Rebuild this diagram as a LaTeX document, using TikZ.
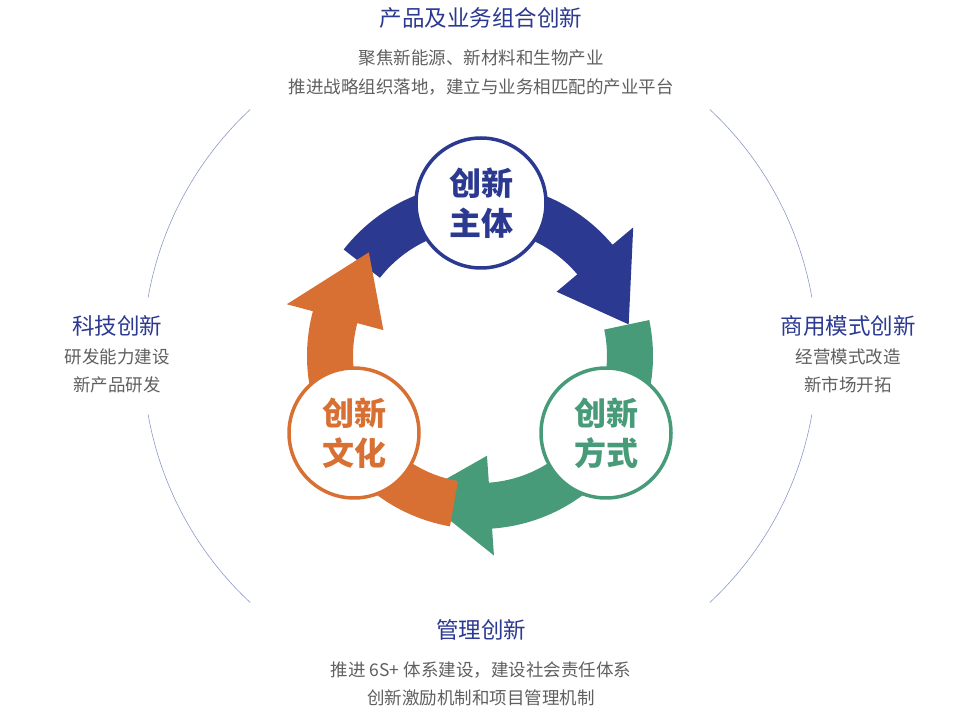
\documentclass[tikz,border=0pt]{standalone}
\usepackage{fontspec}
\setmainfont{Noto Sans CJK SC}
\usetikzlibrary{positioning}
\definecolor{cblue}{HTML}{2B3990}
\definecolor{cgreen}{HTML}{479B79}
\definecolor{corange}{HTML}{D87033}
\definecolor{cgray}{HTML}{5F5F5F}
\definecolor{cring}{HTML}{8D9AC8}
% cycle arrow: colour, start angle, end angle (clockwise)
\newcommand{\cyclearrow}[3]{%
  \pgfmathsetmacro{\hs}{#3+28}
  \fill[#1] (#2:173) arc[start angle=#2, end angle=\hs, radius=173]
    -- (\hs:200) -- (#3:152) -- (\hs:100) -- (\hs:127)
    arc[start angle=\hs, end angle=#2, radius=127] -- cycle;}
\begin{document}
\begin{tikzpicture}[x=1pt,y=1pt,
  hub/.style={circle, draw=#1, line width=3.5pt, fill=white, minimum size=130pt,
    text=#1, font=\fontsize{32}{40}\selectfont\bfseries, align=center, inner sep=0pt},
  title/.style={text=cblue, font=\fontsize{22.5}{26}\selectfont},
  desc/.style={text=cgray, font=\fontsize{17.5}{20}\selectfont}]
\useasboundingbox (0,0) rectangle (970,713);
% outer ring %
\begin{scope}[shift={(480,357)}, cring, line width=0.6pt]
\draw (133:337) arc[start angle=133, end angle=170, radius=337];
\draw (190:337) arc[start angle=190, end angle=227, radius=337];
\draw (47:337) arc[start angle=47, end angle=10, radius=337];
\draw (-10:337) arc[start angle=-10, end angle=-47, radius=337];
\end{scope}
% arrows %
\begin{scope}[shift={(480,357)}]
\cyclearrow{cblue}{142}{12}
\cyclearrow{cgreen}{12}{-114}
\cyclearrow{corange}{-100}{-223}
\end{scope}
% hubs %
\node[hub=cblue] (body) at (481,510) {创新\\主体};
\node[hub=cgreen] (mode) at (606,280) {创新\\方式};
\node[hub=corange] (culture) at (354,280) {创新\\文化};
% labels %
\node[title] (ttop) at (481,695) {产品及业务组合创新};
\node[desc] (dtop1) at (481,655) {聚焦新能源、新材料和生物产业};
\node[desc] (dtop2) at (481,626) {推进战略组织落地，建立与业务相匹配的产业平台};
\node[title] (tleft) at (117,387) {科技创新};
\node[desc] (dleft1) at (117,356) {研发能力建设};
\node[desc] (dleft2) at (117,328) {新产品研发};
\node[title] (tright) at (848,387) {商用模式创新};
\node[desc] (dright1) at (848,356) {经营模式改造};
\node[desc] (dright2) at (848,328) {新市场开拓};
\node[title] (tbot) at (481,83) {管理创新};
\node[desc] (dbot1) at (481,43) {推进 6S+ 体系建设，建设社会责任体系};
\node[desc] (dbot2) at (481,15) {创新激励机制和项目管理机制};
\end{tikzpicture}
\end{document}
